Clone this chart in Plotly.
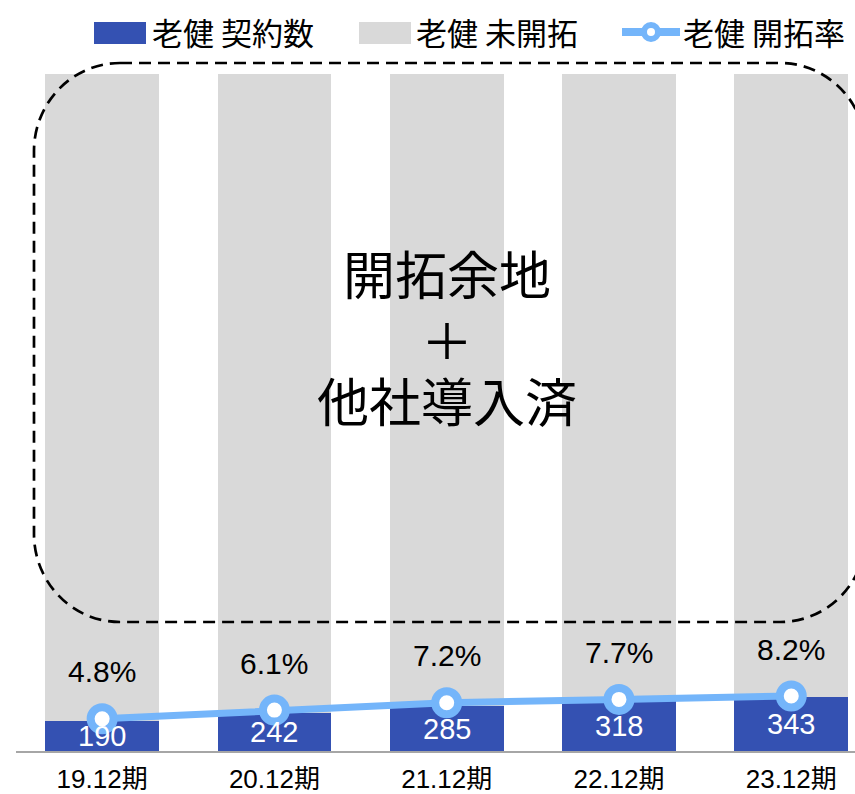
import plotly.graph_objects as go

# ---- data ----
periods = ["19.12期", "20.12期", "21.12期", "22.12期", "23.12期"]
contracted = [190, 242, 285, 318, 343]          # 老健 契約数
untapped = [4110, 4058, 4015, 3982, 3957]       # 老健 未開拓
rate = [4.8, 6.1, 7.2, 7.7, 8.2]                # 老健 開拓率 (%)
rate_labels = ["4.8%", "6.1%", "7.2%", "7.7%", "8.2%"]
legend_names = ["老健 契約数", "老健 未開拓", "老健 開拓率"]
center_lines = ["開拓余地", "＋", "他社導入済"]

# ---- styles ----
BLUE = "#3451B2"
GRAY = "#D9D9D9"
LBLUE = "#74B5FA"
LATIN = "Liberation Sans, Noto Sans CJK JP, sans-serif"
CJK = "Noto Sans CJK JP, sans-serif"

W, H = 855, 794
ML, MR, MT, MB = 16, 0, 74, 43
PW = W - ML - MR
PH = H - MT - MB


def px(x):
    return (x - ML) / PW


def py(y):
    return (H - MB - y) / PH


fig = go.Figure()
fig.add_trace(go.Bar(x=periods, y=contracted, name=legend_names[0],
                     marker=dict(color=BLUE, line=dict(width=0)), showlegend=False))
fig.add_trace(go.Bar(x=periods, y=untapped, name=legend_names[1],
                     marker=dict(color=GRAY, line=dict(width=0)), showlegend=False))
fig.add_trace(go.Scatter(x=periods, y=rate, name=legend_names[2], yaxis="y2",
                         mode="lines+markers",
                         line=dict(color=LBLUE, width=7),
                         marker=dict(size=23, color="white",
                                     line=dict(color=LBLUE, width=8)),
                         showlegend=False))

annotations = []
# bar value labels (white, centered in blue bar)
for p, v in zip(periods, contracted):
    annotations.append(dict(x=p, y=v / 2, xref="x", yref="y", text=str(v),
                            showarrow=False, yanchor="middle",
                            font=dict(family=LATIN, size=29, color="white")))
# rate labels
for p, r, t in zip(periods, rate, rate_labels):
    annotations.append(dict(x=p, y=r, xref="x", yref="y2", text=t,
                            showarrow=False, yanchor="middle", yshift=47,
                            font=dict(family=LATIN, size=30, color="black")))
# center text, one line per annotation
for line, cy, hh in zip(center_lines, [272, 339, 399], [56, 40, 56]):
    annotations.append(dict(x=periods[2], y=py(cy), xref="x", yref="paper",
                            text=line, showarrow=False, yanchor="middle",
                            height=hh, valign="middle",
                            font=dict(family=CJK, size=52, color="black")))

# custom legend text
for name, lx in zip(legend_names, [150, 414, 681]):
    annotations.append(dict(x=px(lx), y=py(31), xref="paper", yref="paper",
                            text=name, showarrow=False, xanchor="left",
                            yanchor="middle",
                            font=dict(family=CJK, size=31, color="black")))

shapes = []
# legend symbols
shapes.append(dict(type="rect", xref="paper", yref="paper",
                   x0=px(94), x1=px(146), y0=py(22), y1=py(44),
                   fillcolor=BLUE, line=dict(width=0)))
shapes.append(dict(type="rect", xref="paper", yref="paper",
                   x0=px(359), x1=px(411), y0=py(22), y1=py(44),
                   fillcolor=GRAY, line=dict(width=0)))
shapes.append(dict(type="line", xref="paper", yref="paper",
                   x0=px(622), x1=px(680), y0=py(32), y1=py(32),
                   line=dict(color=LBLUE, width=8)))
shapes.append(dict(type="circle", xref="paper", yref="paper",
                   x0=px(644), x1=px(658), y0=py(25), y1=py(39),
                   fillcolor="white", line=dict(color=LBLUE, width=6)))

# dashed rounded rectangle
x0, x1, y0, y1, rx, ry = 34, 866, 63, 622, 86, 88
k = 0.5523


def P(x, y):
    return f"{px(x):.5f},{py(y):.5f}"


path = (
    f"M{P(x0 + rx, y0)} L{P(x1 - rx, y0)} "
    f"C{P(x1 - rx + k * rx, y0)} {P(x1, y0 + ry - k * ry)} {P(x1, y0 + ry)} "
    f"L{P(x1, y1 - ry)} "
    f"C{P(x1, y1 - ry + k * ry)} {P(x1 - rx + k * rx, y1)} {P(x1 - rx, y1)} "
    f"L{P(x0 + rx, y1)} "
    f"C{P(x0 + rx - k * rx, y1)} {P(x0, y1 - ry + k * ry)} {P(x0, y1 - ry)} "
    f"L{P(x0, y0 + ry)} "
    f"C{P(x0, y0 + ry - k * ry)} {P(x0 + rx - k * rx, y0)} {P(x0 + rx, y0)} Z"
)
shapes.append(dict(type="path", xref="paper", yref="paper", path=path,
                   line=dict(color="black", width=2.7, dash="12px,7px"),
                   fillcolor="rgba(0,0,0,0)", layer="above"))

fig.update_layout(
    width=W, height=H, autosize=False,
    margin=dict(l=ML, r=MR, t=MT, b=MB, pad=0, autoexpand=False),
    paper_bgcolor="white", plot_bgcolor="white",
    barmode="stack", bargap=0.34,
    showlegend=False,
    xaxis=dict(type="category", range=[-0.5, 4.37], showgrid=False,
               zeroline=False, showline=True, linecolor="#A6A6A6", linewidth=2,
               ticks="", ticklabelstandoff=4, automargin=False,
               tickfont=dict(family=LATIN, size=26, color="black"),
               fixedrange=True),
    yaxis=dict(range=[0, 4300], visible=False, showgrid=False, fixedrange=True,
               automargin=False),
    yaxis2=dict(range=[0, 101], overlaying="y", visible=False,
                showgrid=False, fixedrange=True, automargin=False),
    annotations=annotations,
    shapes=shapes,
)

fig.write_html("out.html")
